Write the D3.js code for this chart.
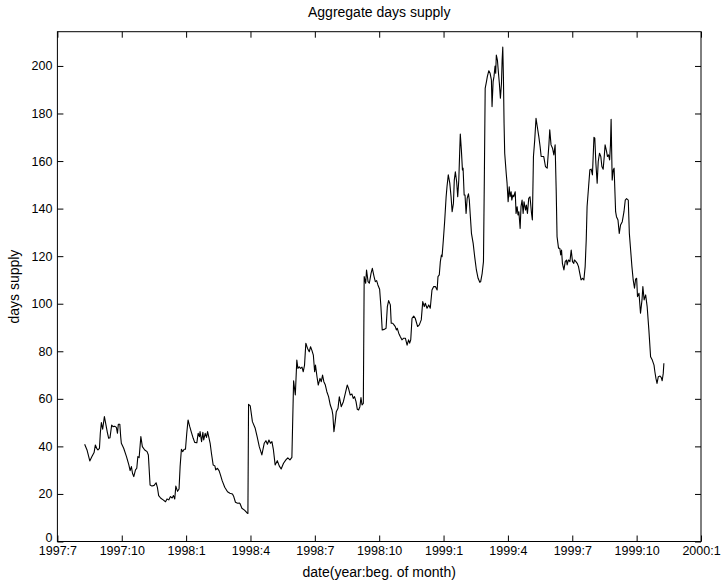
<!DOCTYPE html>
<html>
<head>
<meta charset="utf-8">
<script src="https://cdn.jsdelivr.net/npm/d3@7"></script>
<style>
  html, body { margin: 0; padding: 0; background: #fff; }
  svg { display: block; font-family: "Liberation Sans", Arial, Helvetica, sans-serif; }
</style>
</head>
<body>
<svg id="chart" width="725" height="581"></svg>
<script>
// months since 1997:7 (0 = beginning of July 1997)
const monthIdx = [
  1.27,1.38,1.51,1.61,1.71,1.77,1.83,1.89,1.96,2.00,2.05,2.11,2.19,2.25,2.33,2.39,2.45,2.53,2.59,2.67,
  2.75,2.80,2.84,2.91,2.95,2.98,3.09,3.22,3.33,3.39,3.45,3.50,3.56,3.64,3.70,3.75,3.81,3.89,3.96,4.07,
  4.18,4.24,4.32,4.41,4.51,4.60,4.66,4.72,4.82,4.93,5.04,5.11,5.19,5.27,5.35,5.41,5.47,5.52,5.60,5.67,
  5.72,5.78,5.84,5.91,5.97,6.03,6.09,6.17,6.25,6.33,6.40,6.50,6.56,6.62,6.65,6.72,6.78,6.82,6.89,6.95,
  7.00,7.06,7.12,7.18,7.26,7.34,7.38,7.46,7.54,7.60,7.68,7.80,7.93,8.04,8.16,8.22,8.30,8.40,8.49,8.52,
  8.60,8.72,8.83,8.88,8.91,8.99,9.09,9.22,9.31,9.41,9.53,9.64,9.72,9.79,9.86,9.93,10.00,10.07,10.15,10.25,
  10.34,10.43,10.54,10.65,10.74,10.84,10.93,11.01,11.09,11.16,11.21,11.27,11.33,11.40,11.46,11.52,11.58,11.66,11.74,11.80,
  11.86,11.93,11.99,12.03,12.10,12.16,12.24,12.30,12.36,12.42,12.49,12.56,12.64,12.72,12.80,12.84,12.89,12.95,13.00,13.08,
  13.14,13.23,13.33,13.42,13.51,13.57,13.65,13.73,13.79,13.85,13.92,13.98,14.04,14.10,14.15,14.20,14.26,14.30,14.37,14.41,
  14.48,14.54,14.62,14.68,14.76,14.82,14.88,14.94,15.02,15.08,15.14,15.24,15.32,15.38,15.44,15.52,15.56,15.63,15.69,15.75,
  15.80,15.84,15.91,15.98,16.06,16.14,16.22,16.30,16.37,16.42,16.47,16.53,16.61,16.68,16.79,16.87,16.96,17.03,17.10,17.15,
  17.23,17.31,17.38,17.46,17.54,17.62,17.70,17.74,17.80,17.85,17.90,17.93,17.99,18.05,18.12,18.16,18.22,18.29,18.35,18.40,
  18.46,18.50,18.55,18.61,18.66,18.71,18.75,18.78,18.83,18.88,18.91,18.96,19.00,19.05,19.10,19.16,19.20,19.25,19.30,19.38,
  19.45,19.53,19.61,19.69,19.73,19.80,19.86,19.90,19.94,20.00,20.04,20.11,20.17,20.23,20.26,20.31,20.35,20.40,20.43,20.46,
  20.51,20.56,20.60,20.65,20.70,20.73,20.76,20.79,20.82,20.85,20.92,20.96,21.01,21.06,21.10,21.15,21.18,21.23,21.27,21.34,
  21.38,21.43,21.47,21.51,21.57,21.61,21.66,21.71,21.75,21.82,21.86,21.91,21.97,22.03,22.10,22.14,22.19,22.25,22.31,22.38,
  22.44,22.50,22.55,22.67,22.75,22.83,22.91,22.95,23.01,23.08,23.14,23.20,23.25,23.29,23.36,23.42,23.46,23.50,23.54,23.61,
  23.67,23.73,23.76,23.82,23.89,23.95,24.01,24.07,24.10,24.17,24.23,24.29,24.35,24.41,24.48,24.54,24.60,24.65,24.69,24.76,
  24.82,24.88,24.94,25.01,25.05,25.10,25.16,25.21,25.27,25.33,25.38,25.44,25.49,25.53,25.60,25.64,25.69,25.74,25.78,25.81,
  25.86,25.91,25.95,25.99,26.02,26.06,26.13,26.19,26.25,26.33,26.41,26.47,26.53,26.61,26.66,26.72,26.78,26.84,26.90,26.95,
  27.00,27.04,27.11,27.18,27.25,27.29,27.35,27.42,27.49,27.57,27.65,27.73,27.81,27.85,27.90,27.95,28.01,28.09,28.15,28.19,
  28.24,28.27
];
const daysSupply = [
  40.9,38.5,33.9,35.7,37.4,40.6,39.2,38.5,39.2,45.5,50.0,47.2,52.5,49.7,45.8,43.4,43.6,49.0,48.3,48.5,
  48.0,45.5,49.3,49.3,44.1,41.3,39.2,35.7,32.2,29.8,31.5,28.7,27.3,30.1,30.8,35.7,35.3,44.1,39.9,38.5,
  37.8,36.4,23.8,23.3,23.6,24.7,22.8,19.3,18.2,17.5,16.7,17.9,17.5,18.9,18.3,19.3,17.9,23.3,21.1,22.1,
  31.5,38.8,37.8,38.8,38.8,45.5,51.1,48.3,45.8,43.4,41.7,41.5,45.5,44.1,46.2,42.0,45.9,42.7,45.5,43.8,
  46.2,43.8,41.3,37.1,32.2,31.8,30.1,30.8,29.7,28.0,25.6,22.8,20.9,20.3,20.0,18.9,16.5,16.1,16.2,15.8,
  14.0,13.2,12.1,11.8,57.7,57.0,50.4,47.6,44.1,39.9,36.4,41.3,42.4,40.9,42.7,41.3,42.0,38.5,32.2,34.0,
  31.8,30.5,32.9,34.3,35.2,34.3,35.4,67.6,61.6,76.3,72.8,73.5,72.8,73.3,71.4,74.2,83.4,81.2,79.8,81.9,
  80.5,78.4,71.4,74.2,69.3,65.8,68.6,67.2,70.0,67.2,65.8,63.0,60.9,57.4,55.3,53.2,46.2,50.4,54.6,56.0,
  60.9,56.7,58.8,62.3,65.8,64.4,61.6,62.0,60.2,60.9,58.8,55.6,55.3,56.7,60.5,57.4,58.1,111.4,108.6,114.2,
  109.3,108.6,112.8,114.9,111.4,109.3,109.7,107.9,106.1,98.8,89.0,89.2,89.7,98.8,101.3,99.5,91.8,91.8,91.1,90.4,
  89.0,89.7,87.6,86.2,84.8,85.5,85.5,82.6,84.8,83.4,84.8,93.9,94.8,93.9,90.4,91.1,93.2,100.9,98.8,100.2,
  98.1,99.5,98.1,105.8,107.2,107.2,105.8,111.4,112.1,117.7,120.5,119.8,126.8,134.5,145.0,149.2,154.2,150.7,145.0,138.7,
  142.2,152.0,155.5,151.3,145.0,152.0,163.3,171.4,164.7,156.3,157.0,145.7,145.7,138.0,144.3,146.2,143.6,136.6,129.6,125.4,
  119.8,114.2,110.7,109.0,109.3,112.8,117.7,152.0,190.6,193.4,195.5,198.0,196.9,194.1,182.9,193.4,195.5,200.0,196.9,204.6,
  202.5,196.9,192.7,186.4,192.7,202.5,207.9,195.5,175.9,163.3,154.9,150.7,142.9,149.2,145.0,147.1,143.6,145.7,145.0,147.1,
  138.0,140.8,137.3,138.7,131.7,140.8,143.6,138.0,142.9,139.4,141.5,138.0,144.3,145.0,138.0,135.2,161.9,168.9,178.0,173.8,
  170.3,166.1,161.9,161.9,157.7,157.0,166.8,173.1,166.8,165.4,162.6,166.8,147.8,128.2,123.3,123.3,120.5,122.6,117.0,114.2,
  117.7,118.4,116.3,118.4,117.7,122.6,117.7,117.0,118.4,117.7,117.0,115.6,112.8,110.0,110.7,110.0,115.6,126.8,140.8,149.2,
  156.3,156.6,154.2,170.0,169.6,159.1,150.7,159.8,163.3,161.9,157.7,156.6,161.9,166.8,164.0,161.9,162.6,160.5,166.8,177.6,
  152.0,156.3,157.0,146.5,138.7,136.6,135.2,129.6,133.1,134.5,138.7,143.6,144.2,143.6,129.6,122.6,115.6,110.0,106.5,110.3,
  110.7,103.0,104.4,96.0,101.6,107.2,101.6,103.7,98.8,89.0,77.7,76.3,74.2,71.4,68.6,66.5,69.3,69.6,68.9,67.6,
  70.7,75.0
];
const xTickMonths = [0,3,6,9,12,15,18,21,24,27,30];
const xTickLabels = ["1997:7","1997:10","1998:1","1998:4","1998:7","1998:10","1999:1","1999:4","1999:7","1999:10","2000:1"];
const yTicks = [0,20,40,60,80,100,120,140,160,180,200];
const yMax = 214.4;

const svg = d3.select("#chart");
const L = 57.4, R = 701, T = 31.7, B = 541.5;
const x = d3.scaleLinear().domain([0, 30]).range([L, R]);
const y = d3.scaleLinear().domain([0, yMax]).range([B, T]);
const tick = 6;
const fs = 12.5;   // tick labels
const fsL = 14;    // title and axis labels
const font = '"Liberation Sans", Arial, Helvetica, sans-serif';

// box
svg.append("rect").attr("x", L).attr("y", T).attr("width", R - L).attr("height", B - T)
  .attr("fill", "none").attr("stroke", "#000").attr("stroke-width", 1);

const styleAxis = g => {
  g.select(".domain").remove();
  g.selectAll(".tick line").attr("stroke", "#000");
  g.selectAll("text").attr("fill", "#000").style("font-size", fs + "px").style("font-family", font);
};

svg.append("g").attr("transform", `translate(0,${B})`)
  .call(d3.axisBottom(x).tickValues(xTickMonths).tickFormat((d, i) => xTickLabels[i])
    .tickSizeInner(-tick).tickSizeOuter(0).tickPadding(5))
  .call(styleAxis);
svg.append("g").attr("transform", `translate(0,${T})`)
  .call(d3.axisTop(x).tickValues(xTickMonths).tickFormat("")
    .tickSizeInner(-tick).tickSizeOuter(0))
  .call(styleAxis);
svg.append("g").attr("transform", `translate(${L},0)`)
  .call(d3.axisLeft(y).tickValues(yTicks).tickFormat(d3.format("d"))
    .tickSizeInner(-tick).tickSizeOuter(0).tickPadding(5))
  .call(styleAxis)
  .call(g => g.selectAll(".tick").filter(d => d === 0).select("text").attr("y", -4));
svg.append("g").attr("transform", `translate(${R},0)`)
  .call(d3.axisRight(y).tickValues(yTicks).tickFormat("")
    .tickSizeInner(-tick).tickSizeOuter(0))
  .call(styleAxis);

// line
const pts = monthIdx.map((m, i) => [m, daysSupply[i]]);
svg.append("path").datum(pts)
  .attr("fill", "none").attr("stroke", "#000").attr("stroke-width", 1.1)
  .attr("stroke-linejoin", "round")
  .attr("d", d3.line().x(d => x(d[0])).y(d => y(d[1])));

// labels
svg.append("text").attr("x", (L + R) / 2).attr("y", 17).attr("text-anchor", "middle")
  .style("font-size", fsL + "px").style("font-family", font).text("Aggregate days supply");
svg.append("text").attr("x", (L + R) / 2).attr("y", 577).attr("text-anchor", "middle")
  .style("font-size", fsL + "px").style("font-family", font).text("date(year:beg. of month)");
svg.append("text").attr("transform", `translate(19,${(T + B) / 2}) rotate(-90)`)
  .attr("text-anchor", "middle").style("font-size", fsL + "px").style("font-family", font)
  .text("days supply");
</script>
</body>
</html>
